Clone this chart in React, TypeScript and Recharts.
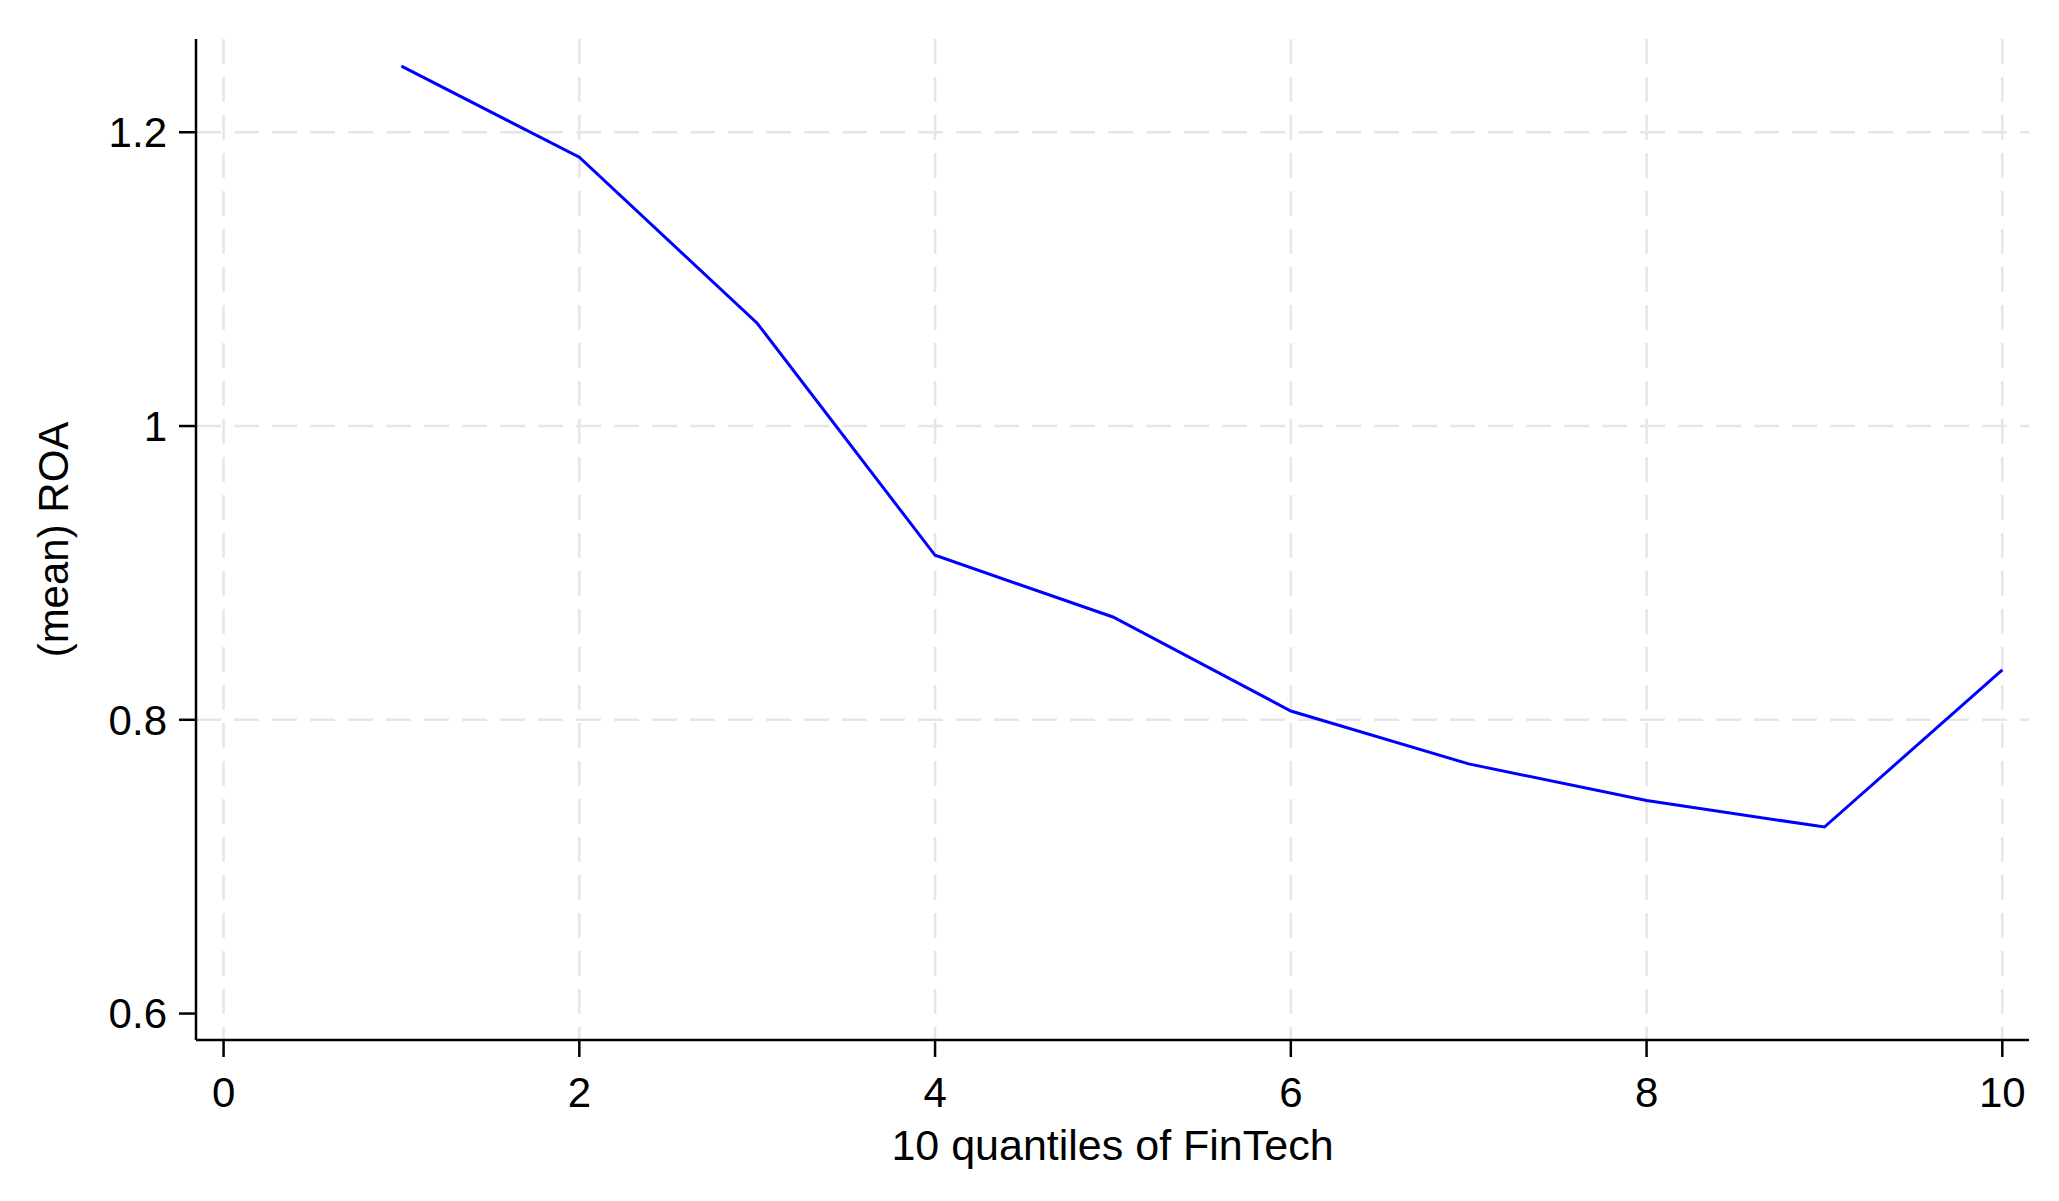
import React from "react";
import {
  LineChart,
  Line,
  XAxis,
  YAxis,
  CartesianGrid,
  Label,
} from "recharts";

const quantiles = [1, 2, 3, 4, 5, 6, 7, 8, 9, 10];
const meanRoa = [1.245, 1.183, 1.07, 0.912, 0.87, 0.806, 0.77, 0.745, 0.727, 0.834];

const xTicks = [0, 2, 4, 6, 8, 10];
const yTicks = [0.6, 0.8, 1, 1.2];
const yGrid = [0.8, 1, 1.2];

const data = quantiles.map((q, i) => ({ q, roa: meanRoa[i] }));

const FONT = "'Liberation Sans', Arial, Helvetica, sans-serif";
const tickStyle = { fill: "#000", fontSize: 42, fontFamily: FONT };

export default function App() {
  return (
    <div style={{ position: "absolute", left: 0, top: 0, background: "#fff" }}>
      <LineChart
        width={2059}
        height={1201}
        data={data}
        margin={{ top: 39, right: 30, bottom: 91, left: 0 }}
      >
        <CartesianGrid
          stroke="#e6e6e6"
          strokeWidth={2.5}
          strokeDasharray="25 13"
          horizontalValues={yGrid}
          verticalValues={xTicks}
        />
        <XAxis
          dataKey="q"
          type="number"
          domain={[-0.155, 10.15]}
          ticks={xTicks}
          allowDataOverflow
          height={70}
          tickSize={17}
          tickMargin={20}
          tick={tickStyle}
          axisLine={{ stroke: "#000", strokeWidth: 2.5 }}
          tickLine={{ stroke: "#000", strokeWidth: 2.5 }}
        >
          <Label
            content={({ viewBox }: any) => (
              <text
                x={viewBox.x + viewBox.width / 2}
                y={1160}
                textAnchor="middle"
                fill="#000"
                fontSize={43}
                fontFamily={FONT}
              >
                10 quantiles of FinTech
              </text>
            )}
          />
        </XAxis>
        <YAxis
          type="number"
          domain={[0.582, 1.2635]}
          ticks={yTicks}
          allowDataOverflow
          width={196}
          tickSize={17}
          tickMargin={12}
          tick={tickStyle}
          axisLine={{ stroke: "#000", strokeWidth: 2.5 }}
          tickLine={{ stroke: "#000", strokeWidth: 2.5 }}
        >
          <Label
            content={({ viewBox }: any) => {
              const cy = viewBox.y + viewBox.height / 2;
              return (
                <text
                  x={68}
                  y={cy}
                  transform={`rotate(-90, 68, ${cy})`}
                  textAnchor="middle"
                  fill="#000"
                  fontSize={42}
                  fontFamily={FONT}
                >
                  (mean) ROA
                </text>
              );
            }}
          />
        </YAxis>
        <Line
          type="linear"
          dataKey="roa"
          stroke="#0000ff"
          strokeWidth={3}
          dot={false}
          activeDot={false}
          isAnimationActive={false}
        />
      </LineChart>
    </div>
  );
}
